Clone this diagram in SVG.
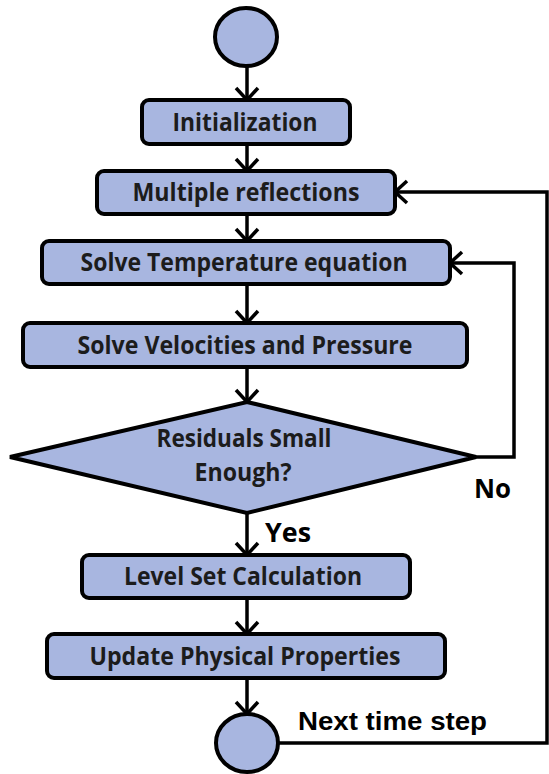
<svg xmlns="http://www.w3.org/2000/svg" width="549" height="774" viewBox="0 0 549 774">
<style>
.shape{fill:#a8b6e0;stroke:#000;stroke-width:4}
.lbl{font-family:"Open Sans","Liberation Sans",sans-serif;font-weight:bold;font-size:25px;fill:#1c1c1c;text-anchor:middle}
.edge{fill:none;stroke:#000;stroke-width:3.5}
.tag{font-family:"Open Sans","Liberation Sans",sans-serif;font-weight:bold;font-size:26px;fill:#000}
.tag2{font-family:"Liberation Sans",Arial,sans-serif;font-weight:bold;font-size:25px;fill:#000}
</style>
<defs>
<marker id="arr" viewBox="-3 -3 18 28" markerWidth="18" markerHeight="28" refX="12" refY="11" orient="auto" markerUnits="userSpaceOnUse">
<path d="M0,0 L12,11 L0,22" fill="none" stroke="#000" stroke-width="3.5"/>
</marker>
</defs>
<rect width="549" height="774" fill="#fff"/>
<g id="connectors">
<path class="edge" d="M247,66 V100" marker-end="url(#arr)"/>
<path class="edge" d="M247,144 V171" marker-end="url(#arr)"/>
<path class="edge" d="M247,214 V241" marker-end="url(#arr)"/>
<path class="edge" d="M247,284 V323" marker-end="url(#arr)"/>
<path class="edge" d="M247,367 V402" marker-end="url(#arr)"/>
<path class="edge" d="M247,513 V555" marker-end="url(#arr)"/>
<path class="edge" d="M247,598 V634" marker-end="url(#arr)"/>
<path class="edge" d="M247,678 V714" marker-end="url(#arr)"/>
<path class="edge" d="M476,457 H514 V263 H450" marker-end="url(#arr)"/>
<path class="edge" d="M278,743 H547 V192 H395" marker-end="url(#arr)"/>
<text class="tag" x="265" y="542" textLength="46" lengthAdjust="spacingAndGlyphs">Yes</text>
<text class="tag" x="474" y="498" textLength="37" lengthAdjust="spacingAndGlyphs">No</text>
<text class="tag2" x="298" y="730" textLength="189" lengthAdjust="spacingAndGlyphs">Next time step</text>
</g>
<g id="start"><ellipse class="shape" cx="246" cy="37" rx="31" ry="29"/></g>
<g id="init"><rect class="shape" x="142" y="100" width="208" height="44" rx="7"/>
<text class="lbl" x="245" y="131" textLength="145" lengthAdjust="spacingAndGlyphs">Initialization</text></g>
<g id="reflections"><rect class="shape" x="97" y="171" width="298" height="43" rx="7"/>
<text class="lbl" x="246" y="201" textLength="227" lengthAdjust="spacingAndGlyphs">Multiple reflections</text></g>
<g id="temperature"><rect class="shape" x="42" y="241" width="408" height="43" rx="7"/>
<text class="lbl" x="244" y="271" textLength="327" lengthAdjust="spacingAndGlyphs">Solve Temperature equation</text></g>
<g id="velocities"><rect class="shape" x="23" y="323" width="444" height="44" rx="7"/>
<text class="lbl" x="245" y="354" textLength="335" lengthAdjust="spacingAndGlyphs">Solve Velocities and Pressure</text></g>
<g id="residuals"><polygon class="shape" points="247,402 476,457 247,513 10,457"/>
<text class="lbl" x="244" y="447" textLength="175" lengthAdjust="spacingAndGlyphs">Residuals Small</text>
<text class="lbl" x="243" y="481" textLength="97" lengthAdjust="spacingAndGlyphs">Enough?</text></g>
<g id="levelset"><rect class="shape" x="82" y="555" width="328" height="43" rx="7"/>
<text class="lbl" x="243" y="585" textLength="238" lengthAdjust="spacingAndGlyphs">Level Set Calculation</text></g>
<g id="update"><rect class="shape" x="47" y="634" width="398" height="44" rx="7"/>
<text class="lbl" x="245" y="665" textLength="311" lengthAdjust="spacingAndGlyphs">Update Physical Properties</text></g>
<g id="end"><ellipse class="shape" cx="247" cy="743" rx="31" ry="29"/></g>
</svg>
